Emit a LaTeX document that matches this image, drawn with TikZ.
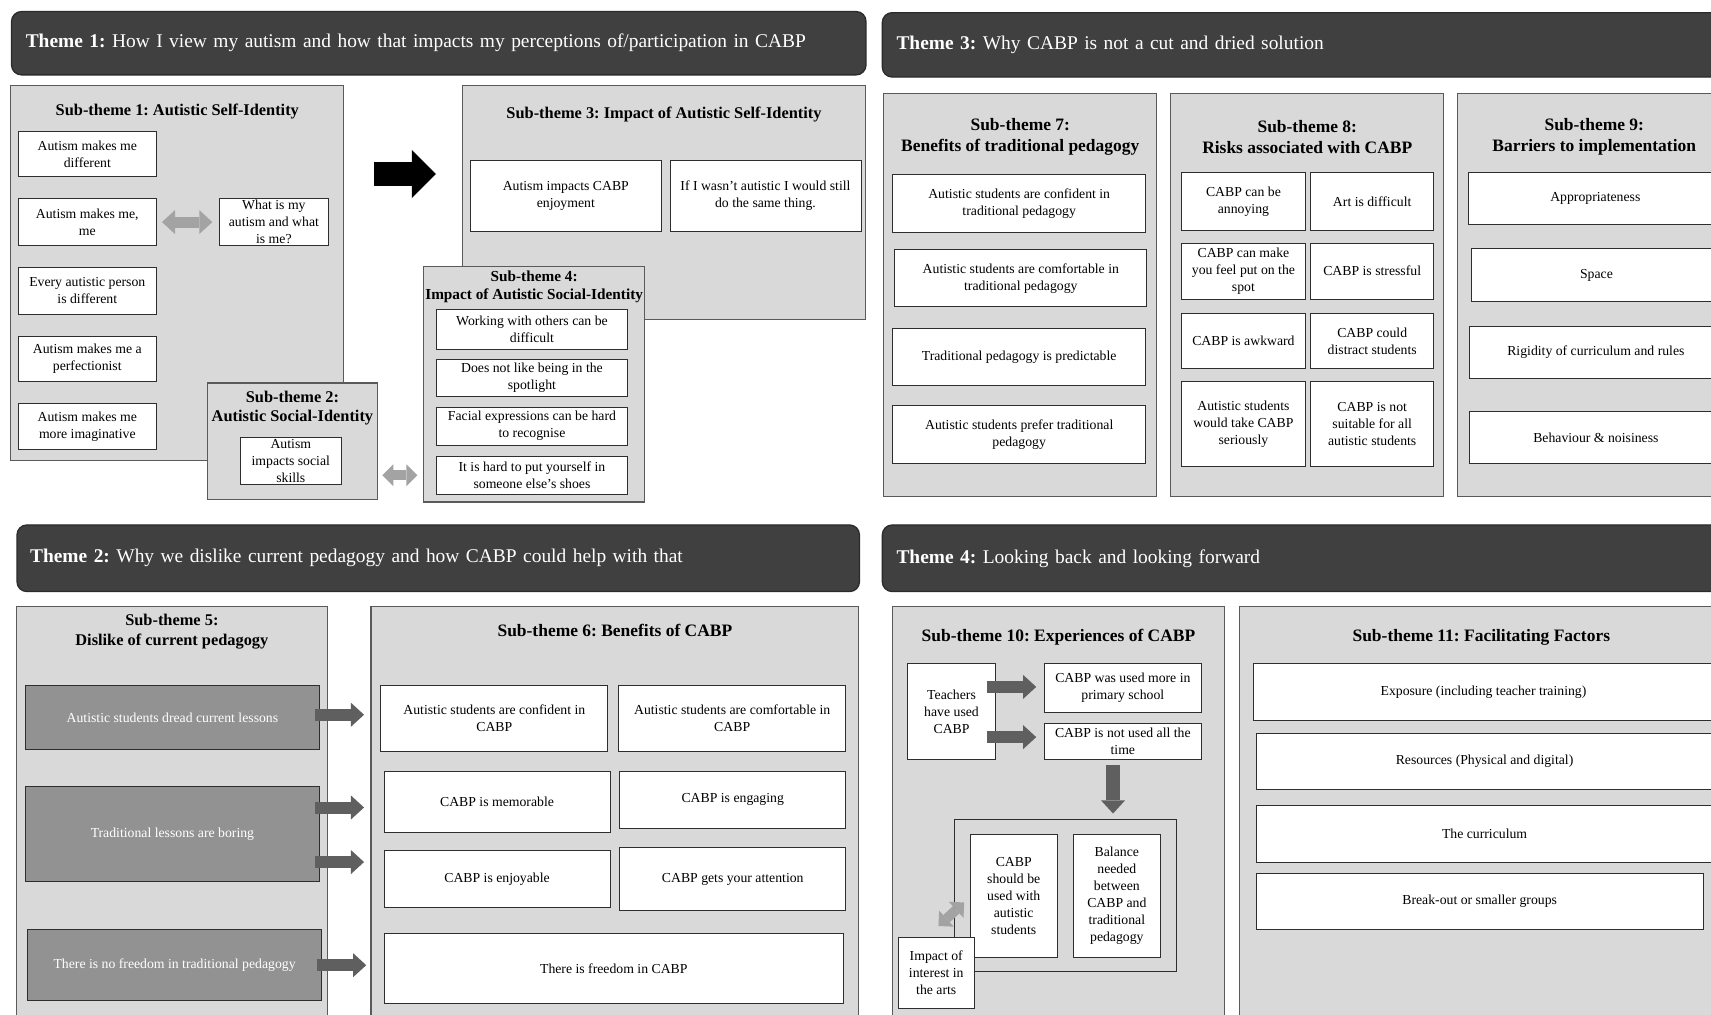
\documentclass[tikz,border=0pt]{standalone}
\usepackage{fontspec}
\setmainfont{Liberation Serif}
\usetikzlibrary{fit,calc,arrows.meta}

\definecolor{hdrfill}{HTML}{404040}
\definecolor{hdrline}{HTML}{2B2B2B}
\definecolor{subfill}{HTML}{D9D9D9}
\definecolor{subline}{HTML}{5A5A5A}
\definecolor{boxline}{HTML}{2E2E2E}
\definecolor{midgray}{HTML}{929292}
\definecolor{darkarrow}{HTML}{5F5F5F}
\definecolor{lightarrow}{HTML}{A3A3A3}

\newcommand\hdfont{\fontsize{17.8pt}{21pt}\selectfont}
\newcommand\titlefontA{\bfseries\fontsize{15pt}{18pt}\selectfont}
\newcommand\titlefontB{\bfseries\fontsize{16pt}{19pt}\selectfont}
\newcommand\titlefontC{\bfseries\fontsize{14pt}{16.5pt}\selectfont}
\newcommand\bxfont{\fontsize{12.6pt}{15.5pt}\selectfont}

\begin{document}
\frenchspacing
\begin{tikzpicture}[x=1pt,y=-1pt,
  % a rectangle given by its two corners (x1,y1) and (x2,y2)
  cellat/.style n args={4}{at={({(#1+#3)/2},{(#2+#4)/2})},
    minimum width={(#3-#1)*1pt}, minimum height={(#4-#2)*1pt}},
  hdr/.style={draw=hdrline, fill=hdrfill, rounded corners=9pt, line width=1.2pt,
    text=white, font=\hdfont, align=left, anchor=north west, inner ysep=0pt},
  sub/.style={draw=subline, fill=subfill, line width=1pt, inner sep=0pt},
  wbox/.style={draw=boxline, fill=white, line width=0.8pt, inner sep=0pt,
    align=center, font=\bxfont},
  gbox/.style={wbox, fill=midgray, text=white},
  cbox/.style={draw=boxline, fill=subfill, line width=1pt, inner sep=0pt},
  ttlA/.style={font=\titlefontA, align=center},
  ttlB/.style={font=\titlefontB, align=center},
  ttlC/.style={font=\titlefontC, align=center},
  bigarrow/.style={line width=22pt, black,
    -{Triangle[length=22pt,width=44pt,line width=0pt]}},
  darr/.style={line width=11pt, darkarrow,
    -{Triangle[length=12pt,width=22pt,line width=0pt]}},
  darrv/.style={line width=13pt, darkarrow,
    -{Triangle[length=12pt,width=22pt,line width=0pt]}},
  larr/.style={line width=10pt, lightarrow,
    {Triangle[length=12pt,width=22pt,line width=0pt]}-{Triangle[length=12pt,width=22pt,line width=0pt]}},
  larrs/.style={line width=9pt, lightarrow,
    {Triangle[length=10pt,width=20pt,line width=0pt]}-{Triangle[length=10pt,width=20pt,line width=0pt]}},
]
\useasboundingbox (0,0) rectangle (1568,930);
\clip (0,0) rectangle (1568,930);
\fill[white] (0,0) rectangle (1568,930);

% ---------------- Theme headers ----------------
\node[hdr, minimum height=58pt, text width=757pt, inner xsep=13pt] (th1) at (10,10)
  {\textbf{Theme 1:} How I view my autism and how that impacts my perceptions of/participation in CABP};
\node[hdr, minimum height=59pt, text width=746pt, inner xsep=13pt] (th3) at (808,11)
  {\textbf{Theme 3:} Why CABP is not a cut and dried solution};
\node[hdr, minimum height=61pt, text width=748pt, inner xsep=12pt] (th2) at (15,480.5)
  {\textbf{Theme 2:} Why we dislike current pedagogy and how CABP could help with that};
\node[hdr, minimum height=61pt, text width=746pt, inner xsep=13pt] (th4) at (808,480.5)
  {\textbf{Theme 4:} Looking back and looking forward};

% ---------------- Theme 1 ----------------
\node[sub, fit={(10,78)(315,422)}] (s1) {};
\node[ttlA] (s1t) at ($(s1.north)+(0,24.5)$) {Sub-theme 1: Autistic Self-Identity};
\node[wbox, cellat={17}{120}{143}{162}] (a1) {Autism makes me\\different};
\node[wbox, cellat={17}{182}{143}{225}] (a2) {Autism makes me,\\me};
\node[wbox, cellat={201}{182}{301}{225}] (a3) {What is my\\autism and what\\is me?};
\node[wbox, cellat={17}{245}{143}{288}] (a4) {Every autistic person\\is different};
\node[wbox, cellat={17}{308}{143}{350}] (a5) {Autism makes me a\\perfectionist};
\node[wbox, cellat={17}{370}{143}{412}] (a6) {Autism makes me\\more imaginative};
\draw[larr] ($(a2.east)+(5,0)$) -- ($(a3.west)+(-6,0)$);

\node[sub, fit={(424,78)(793,293)}] (s3) {};
\node[ttlA] (s3t) at ($(s3.north)+(0,27.5)$) {Sub-theme 3: Impact of Autistic Self-Identity};
\node[wbox, cellat={431}{147}{606}{212}] (c1) {Autism impacts CABP\\enjoyment};
\node[wbox, cellat={614}{147}{789}{212}] (c2) {If I wasn't autistic I would still\\do the same thing.};

\draw[bigarrow] ($(s1.north east)+(27,82)$) -- ($(s3.north west)+(-24,82)$);

\node[sub, fit={(190,351)(346,458)}] (s2) {};
\node[ttlA] (s2t) at ($(s2.north)+(0,23.5)$) {Sub-theme 2:\\Autistic Social-Identity};
\node[wbox, cellat={220}{401}{313}{444}] (b1) {Autism\\impacts social\\skills};

\node[sub, fit={(388,244)(591,460)}] (s4) {};
\node[ttlC] (s4t) at ($(s4.north)+(0,19.5)$) {Sub-theme 4:\\Impact of Autistic Social-Identity};
\node[wbox, cellat={400}{284}{575}{320}] (d1) {Working with others can be\\difficult};
\node[wbox, cellat={400}{329}{575}{363}] (d2) {Does not like being in the\\spotlight};
\node[wbox, cellat={400}{373}{575}{408}] (d3) {Facial expressions can be hard\\to recognise};
\node[wbox, cellat={400}{418}{575}{453}] (d4) {It is hard to put yourself in\\someone else's shoes};

\draw[larrs] ($(d4.west -| s2.east)+(4,0)$) -- ($(d4.west -| s4.west)+(-5,0)$);

% ---------------- Theme 3 ----------------
\node[sub, fit={(810,86)(1060,455)}] (s7) {};
\node[ttlB] (s7t) at ($(s7.north)+(0,40)$) {Sub-theme 7:\\Benefits of traditional pedagogy};
\node[wbox, cellat={818}{160}{1050}{213}] (e1) {Autistic students are confident in\\traditional pedagogy};
\node[wbox, cellat={820}{229}{1051}{281}] (e2) {Autistic students are comfortable in\\traditional pedagogy};
\node[wbox, cellat={818}{301}{1050}{353}] (e3) {Traditional pedagogy is predictable};
\node[wbox, cellat={818}{372}{1050}{425}] (e4) {Autistic students prefer traditional\\pedagogy};

\node[sub, fit={(1073,86)(1323,455)}] (s8) {};
\node[ttlB] (s8t) at ($(s8.north)+(0,40)$) {Sub-theme 8:\\Risks associated with CABP};
\node[wbox, cellat={1083}{158}{1196}{211}] (f11) {CABP can be\\annoying};
\node[wbox, cellat={1201}{158}{1314}{211}] (f12) {Art is difficult};
\node[wbox, cellat={1083}{223}{1196}{274}] (f21) {CABP can make\\you feel put on the\\spot};
\node[wbox, cellat={1201}{223}{1314}{274}] (f22) {CABP is stressful};
\node[wbox, cellat={1083}{287}{1196}{338}] (f31) {CABP is awkward};
\node[wbox, cellat={1201}{287}{1314}{338}] (f32) {CABP could\\distract students};
\node[wbox, cellat={1083}{350}{1196}{427}] (f41) {Autistic students\\would take CABP\\seriously};
\node[wbox, cellat={1201}{350}{1314}{427}] (f42) {CABP is not\\suitable for all\\autistic students};

\node[sub, fit={(1336,86)(1586,455)}] (s9) {};
\node[ttlB] (s9t) at ($(s9.north)+(0,40)$) {Sub-theme 9:\\Barriers to implementation};
\node[wbox, cellat={1346}{158}{1578}{206}] (g1) {Appropriateness};
\node[wbox, cellat={1348}{228}{1578}{276}] (g2) {Space};
\node[wbox, cellat={1347}{299}{1578}{347}] (g3) {Rigidity of curriculum and rules};
\node[wbox, cellat={1347}{377}{1578}{425}] (g4) {Behaviour \& noisiness};

% ---------------- Theme 2 ----------------
\node[sub, fit={(15,556)(300,945)}] (s5) {};
\node[ttlA] (s5t) at ($(s5.north)+(0,23.5)$) {Sub-theme 5:\\Dislike of current pedagogy};
\node[gbox, cellat={23}{628}{293}{687}] (h1) {Autistic students dread current lessons};
\node[gbox, cellat={23}{721}{293}{808}] (h2) {Traditional lessons are boring};
\node[gbox, cellat={25}{852}{295}{917}] (h3) {There is no freedom in traditional pedagogy};

\node[sub, fit={(340,556)(787,945)}] (s6) {};
\node[ttlB] (s6t) at ($(s6.north)+(0,22.5)$) {Sub-theme 6: Benefits of CABP};
\node[wbox, cellat={349}{628}{557}{689}] (i1) {Autistic students are confident in\\CABP};
\node[wbox, cellat={567}{628}{775}{689}] (i2) {Autistic students are comfortable in\\CABP};
\node[wbox, cellat={352}{707}{559}{763}] (i3) {CABP is memorable};
\node[wbox, cellat={568}{707}{775}{759}] (i4) {CABP is engaging};
\node[wbox, cellat={352}{779}{559}{832}] (i5) {CABP is enjoyable};
\node[wbox, cellat={568}{777}{775}{834}] (i6) {CABP gets your attention};
\node[wbox, cellat={352}{855}{773}{920}] (i7) {There is freedom in CABP};

\draw[darr] ($(h1.east)+(-5,-2.5)$) -- ($(h1.east -| i1.west)+(-15,-2.5)$);
\draw[darr] ($(h2.east)+(-5,-24.5)$) -- ($(h2.east -| i3.west)+(-18,-24.5)$);
\draw[darr] ($(h2.east)+(-5,25.5)$) -- ($(h2.east -| i5.west)+(-18,25.5)$);
\draw[darr] ($(h3.east)+(-5,0)$) -- ($(h3.east -| i7.west)+(-16,0)$);

% ---------------- Theme 4 ----------------
\node[sub, fit={(818,556)(1122,945)}] (s10) {};
\node[ttlB] (s10t) at ($(s10.north)+(0,28.5)$) {Sub-theme 10: Experiences of CABP};
\node[wbox, cellat={832}{608}{912}{696}] (j1) {Teachers\\have used\\CABP};
\node[wbox, cellat={957}{608}{1101}{653}] (j2) {CABP was used more in\\primary school};
\node[wbox, cellat={957}{663}{1101}{696}] (j3) {CABP is not used all the\\time};
\draw[darr] ($(j2.west -| j1.east)+(-8,-1)$) -- ($(j2.west)+(-7,-1)$);
\draw[darr] ($(j3.west -| j1.east)+(-8,-4)$) -- ($(j3.west)+(-7,-4)$);

\node[cbox, fit={(875,751)(1078,890)}] (k) {};
\draw[darrv] ($(j3.south)+(-9,5)$) -- ($(j3.south |- k.north)+(-9,-5)$);
\node[wbox, cellat={889}{765}{969}{877}] (k1) {CABP\\should be\\used with\\autistic\\students};
\node[wbox, cellat={984}{765}{1063}{877}] (k2) {Balance\\needed\\between\\CABP and\\traditional\\pedagogy};
\node[wbox, cellat={823}{859}{893}{924}] (k3) {Impact of\\interest in\\the arts};
\draw[larrs] ($(k3.north)+(2,-10)$) -- ($(k1.west)+(-5,6)$);

\node[sub, fit={(1136,556)(1586,945)}] (s11) {};
\node[ttlB] (s11t) at ($(s11.north west)+(222,28.5)$) {Sub-theme 11: Facilitating Factors};
\node[wbox, cellat={1149}{608}{1570}{660}] (l1) {Exposure (including teacher training)};
\node[wbox, cellat={1151}{672}{1570}{723}] (l2) {Resources (Physical and digital)};
\node[wbox, cellat={1151}{738}{1570}{790}] (l3) {The curriculum};
\node[wbox, cellat={1151}{800}{1561}{852}] (l4) {Break-out or smaller groups};
\end{tikzpicture}
\end{document}
